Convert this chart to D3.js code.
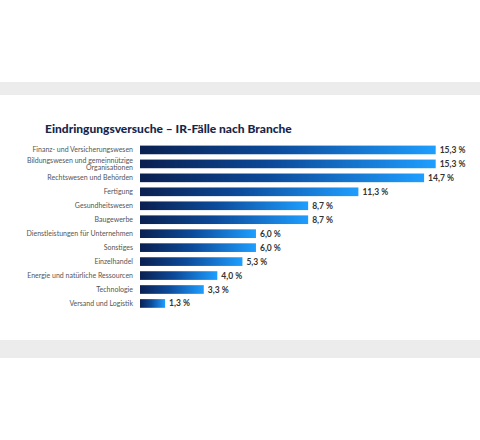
<!DOCTYPE html>
<html><head><meta charset="utf-8">
<script src="https://cdn.jsdelivr.net/npm/d3@7"></script>
<style>html,body{margin:0;padding:0;background:#fff;}</style>
</head><body>
<svg id="c" width="480" height="440"></svg>
<script>
const categories = ["Finanz- und Versicherungswesen","Bildungswesen und gemeinnützige|Organisationen","Rechtswesen und Behörden","Fertigung","Gesundheitswesen","Baugewerbe","Dienstleistungen für Unternehmen","Sonstiges","Einzelhandel","Energie und natürliche Ressourcen","Technologie","Versand und Logistik"];
const values = [15.3,15.3,14.7,11.3,8.7,8.7,6.0,6.0,5.3,4.0,3.3,1.3];
const title = "Eindringungsversuche – IR-Fälle nach Branche";

const svg = d3.select("#c");
svg.append("rect").attr("x",0).attr("y",82).attr("width",480).attr("height",13).attr("fill","#ececec");
svg.append("rect").attr("x",0).attr("y",340).attr("width",480).attr("height",18).attr("fill","#ececec");

const defs = svg.append("defs");
const g = defs.append("linearGradient").attr("id","bg").attr("x1","0").attr("x2","1").attr("y1","0").attr("y2","0");
g.append("stop").attr("offset","0").attr("stop-color","#0a2050");
g.append("stop").attr("offset","0.45").attr("stop-color","#0c4a9a");
g.append("stop").attr("offset","1").attr("stop-color","#1e9eff");

svg.append("text").attr("x",45).attr("y",133).text(title)
  .attr("font-family","Lato").attr("font-weight","900").attr("font-size","12px").attr("fill","#16264a");

const x = d3.scaleLinear().domain([0,15.3]).range([140,435.7]);
const y = d3.scaleBand().domain(categories).range([140.3,313.1]).padding(0.38);

svg.selectAll("rect.bar").data(categories).join("rect").attr("class","bar")
  .attr("x",x(0)).attr("y",d=>y(d)).attr("height",y.bandwidth())
  .attr("width",(d,i)=>x(values[i])-x(0)).attr("fill","url(#bg)");

const lab = svg.selectAll("text.lab").data(categories).join("text").attr("class","lab")
  .attr("x",133).attr("text-anchor","end")
  .attr("font-family","Lato").attr("font-size","7px").attr("fill","#555");
lab.each(function(d){
  const parts = d.split("|");
  const cy = y(d)+y.bandwidth()/2;
  const t = d3.select(this);
  if(parts.length===1){
    t.attr("y",cy+2.5).text(d);
  } else {
    parts.forEach((p,k)=>t.append("tspan").attr("x",133).attr("y",cy-1.2+k*7.2).text(p));
  }
});

svg.selectAll("text.val").data(categories).join("text").attr("class","val")
  .attr("x",(d,i)=>x(values[i])+4).attr("y",d=>y(d)+y.bandwidth()/2+3)
  .attr("font-family","Lato").attr("font-weight","bold").attr("font-size","8.5px").attr("fill","#333")
  .text((d,i)=>d3.format(".1f")(values[i]).replace(".",",")+" %");
</script>
</body></html>
